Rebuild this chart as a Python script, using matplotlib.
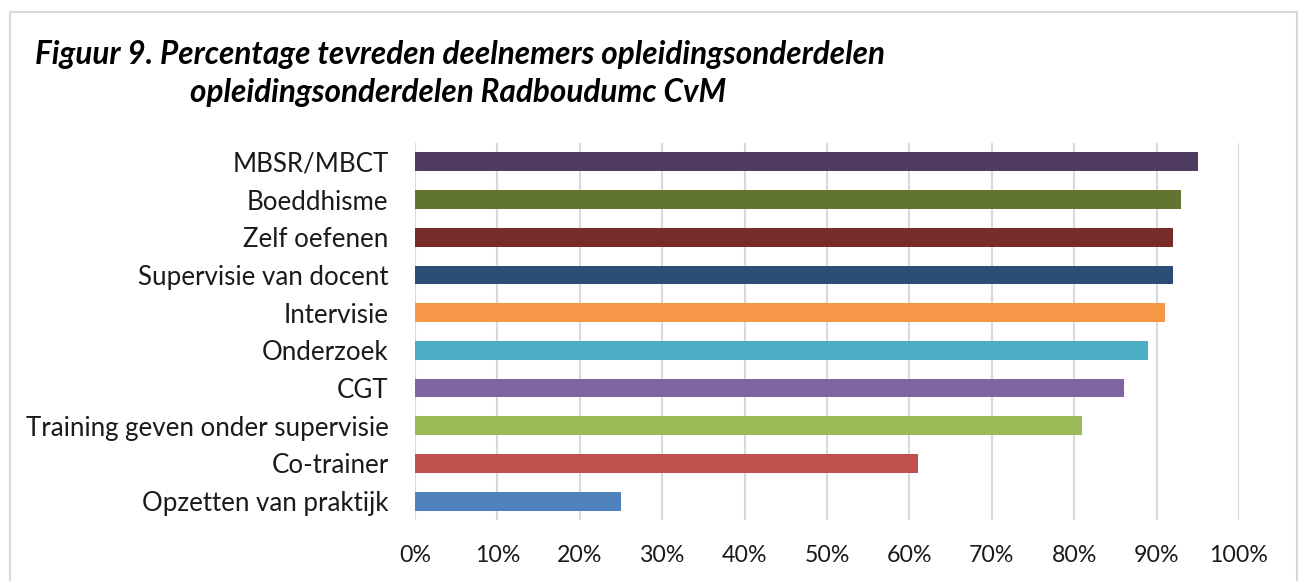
import matplotlib
matplotlib.use("Agg")
import matplotlib.pyplot as plt
from matplotlib.patches import Rectangle
from matplotlib.ticker import FuncFormatter, MultipleLocator

categories = ["MBSR/MBCT", "Boeddhisme", "Zelf oefenen", "Supervisie van docent",
              "Intervisie", "Onderzoek", "CGT", "Training geven onder supervisie",
              "Co-trainer", "Opzetten van praktijk"]
values = [95, 93, 92, 92, 91, 89, 86, 81, 61, 25]
colors = ["#4F3B62", "#617430", "#772C2A", "#2C4D75", "#F79646",
          "#4BACC6", "#8064A2", "#9BBB59", "#C0504D", "#4F81BD"]
title_lines = ["Figuur 9. Percentage tevreden deelnemers opleidingsonderdelen",
               "opleidingsonderdelen Radboudumc CvM"]

W, H = 1301, 581
fig = plt.figure(figsize=(W / 100, H / 100), dpi=100)
fig.patch.set_facecolor("white")

# outer border
fig.patches.append(Rectangle((10 / W, -0.1), (1297 - 10) / W, (H - 12) / H + 0.1,
                             transform=fig.transFigure, fill=False,
                             edgecolor="#D9D9D9", linewidth=1.5))

ax = fig.add_axes([415 / W, 1 - 520 / H, (1239 - 415) / W, (520 - 143) / H])
y = list(range(len(categories)))
ax.barh(y, values, height=0.5, color=colors, zorder=3)
ax.set_ylim(len(categories) - 0.5, -0.5)
ax.set_yticks(y)
ax.set_yticklabels(categories)
ax.set_xlim(0, 100)
ax.xaxis.set_major_locator(MultipleLocator(10))
ax.xaxis.set_major_formatter(FuncFormatter(lambda v, p: f"{int(round(v))}%"))
ax.grid(axis="x", color="#D9D9D9", linewidth=1.5, zorder=0)
for s in ax.spines.values():
    s.set_visible(False)
ax.tick_params(axis="both", length=0)
ax.tick_params(axis="y", pad=19, labelsize=18.6)
ax.tick_params(axis="x", pad=18, labelsize=16.7)
for lbl in ax.get_xticklabels() + ax.get_yticklabels():
    lbl.set_fontfamily("Lato")
    lbl.set_color("#1A1A1A")

fig.text(35 / W, 1 - 64 / H, title_lines[0], fontsize=22.7, fontweight="bold",
         fontstyle="italic", family="Lato", va="baseline", ha="left")
fig.text(190 / W, 1 - 102 / H, title_lines[1], fontsize=22.7, fontweight="bold",
         fontstyle="italic", family="Lato", va="baseline", ha="left")

fig.savefig("out.png", dpi=100)
